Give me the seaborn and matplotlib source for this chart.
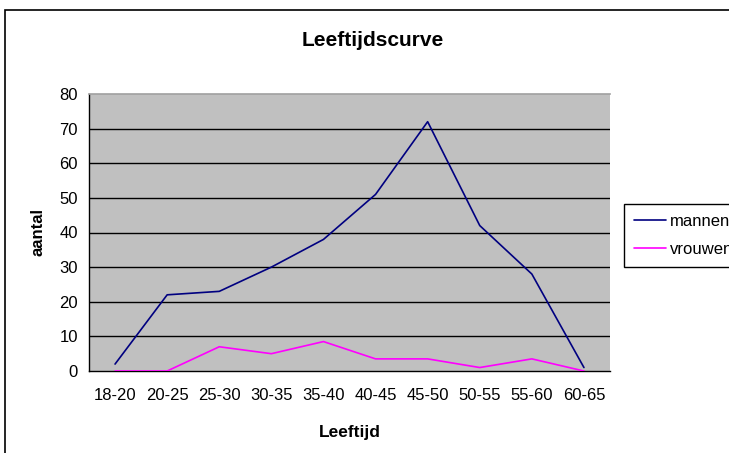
import pandas as pd
import seaborn as sns
import matplotlib.pyplot as plt
from matplotlib.patches import Rectangle
from matplotlib.lines import Line2D

# age groups and counts
leeftijd = ['18-20', '20-25', '25-30', '30-35', '35-40', '40-45', '45-50', '50-55', '55-60', '60-65']
mannen = [2, 22, 23, 30, 38, 51, 72, 42, 28, 1]
vrouwen = [0, 0, 7, 5, 8.5, 3.5, 3.5, 1, 3.5, 0]
y_ticks = [0, 10, 20, 30, 40, 50, 60, 70, 80]

df = pd.DataFrame({
    'Leeftijd': leeftijd * 2,
    'aantal': mannen + vrouwen,
    'groep': ['mannen'] * len(leeftijd) + ['vrouwen'] * len(leeftijd),
})

sns.set_style('white')
plt.rcParams['font.family'] = ['Liberation Sans', 'DejaVu Sans']
plt.rcParams['text.color'] = 'black'
plt.rcParams['axes.labelcolor'] = 'black'
plt.rcParams['xtick.color'] = 'black'
plt.rcParams['ytick.color'] = 'black'

fig = plt.figure(figsize=(7.29, 4.53), dpi=100)
ax = fig.add_axes([89 / 729, 82 / 453, 521 / 729, 277 / 453])
ax.set_facecolor('#c0c0c0')

# horizontal gridlines (not the top one, that is the plot area border)
for t in y_ticks[1:-1]:
    ax.axhline(t, color='black', linewidth=1, zorder=1)

sns.lineplot(data=df, x='Leeftijd', y='aantal', hue='groep', sort=False,
             palette={'mannen': '#000080', 'vrouwen': '#ff00ff'},
             linewidth=1.2, ax=ax, legend=False, zorder=3)

ax.set_xlim(-0.5, len(leeftijd) - 0.5)
ax.set_ylim(0, 80)
ax.set_yticks(y_ticks)

# ticks between categories like Excel
ax.set_xticks(range(len(leeftijd)))
ax.set_xticklabels(leeftijd)
ax.set_xticks([i + 0.5 for i in range(-1, len(leeftijd))], minor=True)
ax.tick_params(axis='x', which='major', length=0, labelsize=12, pad=12)
ax.tick_params(axis='x', which='minor', length=5, width=1, color='black', direction='out')
ax.tick_params(axis='y', length=5, width=1, color='black', direction='out', labelsize=12, pad=3)

ax.spines['right'].set_visible(False)
ax.spines['top'].set_color('#a0a0a0')
ax.spines['top'].set_linewidth(1.2)
ax.spines['left'].set_color('black')
ax.spines['bottom'].set_color('black')
ax.spines['left'].set_linewidth(1)
ax.spines['bottom'].set_linewidth(1)

ax.set_xlabel('Leeftijd', fontsize=12.5, fontweight='bold', labelpad=16)
ax.set_ylabel('aantal', fontsize=12, fontweight='bold', labelpad=10)
fig.text(373 / 729, 1 - 40 / 453, 'Leeftijdscurve', ha='center', va='center',
         fontsize=15, fontweight='bold')

# outer chart border
fig.patches.append(Rectangle((5 / 729, -0.05), 1.0, 1 - 10 / 453 + 0.05, transform=fig.transFigure,
                             fill=False, edgecolor='black', linewidth=1.2))

handles = [Line2D([], [], color='#000080', linewidth=1.2),
           Line2D([], [], color='#ff00ff', linewidth=1.2)]
fig.legend(handles, ['mannen', 'vrouwen'], loc='upper left',
           bbox_to_anchor=(624 / 729, 1 - 204 / 453), borderaxespad=0,
           frameon=True, fancybox=False, edgecolor='black', fontsize=12,
           handlelength=1.9, handletextpad=0.25, borderpad=0.6, labelspacing=0.75,
           framealpha=1)

fig.savefig('out.png', dpi=100)
